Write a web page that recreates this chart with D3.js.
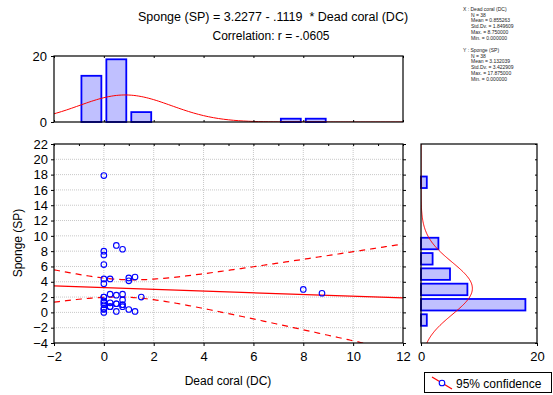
<!DOCTYPE html>
<html>
<head>
<meta charset="utf-8">
<script src="https://cdn.jsdelivr.net/npm/d3@7"></script>
<style>
  body { margin: 0; background: #fff; }
  svg { font-family: 'Liberation Sans', Arial, sans-serif; }
</style>
</head>
<body>
<div id="chart"></div>
<script>
// scatter data: Dead coral (DC) vs Sponge (SP)
const dcValues = [
  0, 0, 0, 0, 0, 0, 0, 0, 0, 0, 0, 0, 0, 0,
  0.25, 0.5, 0.75, 1.0, 1.0, 0.25, 0.5, 0.75, 0.75, 0.75, 0.25, 0.5, 0.25, 0.75, 1.0, 0.5, 0.5, 0.25, 0.75,
  1.25, 1.5, 1.25,
  8.0, 8.75
];
const spValues = [
  17.875, 8.0, 7.5, 6.25, 4.375, 3.75, 2.0, 2.0, 1.5, 1.25, 1.0, 0.5, 0.375, 0.0,
  4.375, 8.75, 8.25, 4.5, 4.125, 2.375, 2.25, 2.375, 1.625, 1.0, 1.25, 1.125, 0.75, 0.75, 0.375, 0.125, 1.125, 0.75, 1.0,
  4.625, 2.0, 0.125,
  3.0, 2.5
];

// marginal histograms
const dcBinStarts = [-1, 0, 1, 7, 8];
const dcBinCounts = [14, 19, 3, 1, 1];
const dcBinWidth = 1;
const spBinStarts = [-2, 0, 2, 4, 6, 8, 16];
const spBinCounts = [1, 18, 8, 5, 2, 3, 1];
const spBinWidth = 2;

// fit results as printed in the chart
const intercept = 3.2277;
const slope = -0.1119;
const nObs = 38;
const dcStats = { mean: 0.855263, sd: 1.849609, max: 8.75, min: 0 };
const spStats = { mean: 3.132039, sd: 3.422909, max: 17.875, min: 0 };
const corrR = -0.0605;
const tCrit = 2.028;

const xTicks = [-2, 0, 2, 4, 6, 8, 10, 12];
const yTicks = [-4, -2, 0, 2, 4, 6, 8, 10, 12, 14, 16, 18, 20, 22];
const histTicks = [0, 20];

const statLinesX = ['X : Dead coral (DC)', 'N = 38', 'Mean = 0.855263', 'Std.Dv. = 1.849609', 'Max. = 8.750000', 'Min. = 0.000000'];
const statLinesY = ['Y : Sponge (SP)', 'N = 38', 'Mean = 3.132039', 'Std.Dv. = 3.422909', 'Max. = 17.875000', 'Min. = 0.000000'];

const W = 553, H = 395;
const svg = d3.select('#chart').append('svg').attr('width', W).attr('height', H);

const x = d3.scaleLinear().domain([-2, 12]).range([54, 403]);
const y = d3.scaleLinear().domain([-4, 22]).range([343, 144]);
const hy = d3.scaleLinear().domain([0, 20]).range([122, 56]);
const hx = d3.scaleLinear().domain([0, 20]).range([421, 537]);

function normalPdf(v, m, s) {
  return Math.exp(-0.5 * ((v - m) / s) ** 2) / (s * Math.sqrt(2 * Math.PI));
}

// titles
svg.append('text').attr('x', 273).attr('y', 21).attr('text-anchor', 'middle')
  .style('font-size', '12.5px').style('white-space', 'pre')
  .text('Sponge (SP) = 3.2277 - .1119  * Dead coral (DC)');
svg.append('text').attr('x', 271).attr('y', 40).attr('text-anchor', 'middle')
  .style('font-size', '12px').text('Correlation: r = ' + corrR.toFixed(4).replace('0.', '.'));

// stats block
const stats = svg.append('g').style('font-size', '5px').attr('fill', '#222');
statLinesX.forEach((t, i) => stats.append('text').attr('x', i ? 471 : 463).attr('y', 11 + i * 5.7).text(t));
statLinesY.forEach((t, i) => stats.append('text').attr('x', i ? 471 : 463).attr('y', 52 + i * 5.7).text(t));

// clip paths
const defs = svg.append('defs');
defs.append('clipPath').attr('id', 'clipMain').append('rect')
  .attr('x', 54).attr('y', 144).attr('width', 349).attr('height', 199);
defs.append('clipPath').attr('id', 'clipTop').append('rect')
  .attr('x', 54).attr('y', 56).attr('width', 349).attr('height', 66);
defs.append('clipPath').attr('id', 'clipRight').append('rect')
  .attr('x', 421).attr('y', 144).attr('width', 116).attr('height', 199);

// ---- main scatter plot ----
const main = svg.append('g');
main.append('g').selectAll('line').data(xTicks.slice(1, -1)).join('line')
  .attr('x1', d => x(d)).attr('x2', d => x(d)).attr('y1', 144).attr('y2', 343)
  .attr('stroke', '#c8c8c8').attr('stroke-dasharray', '1,1');
main.append('g').selectAll('line').data(yTicks.slice(1, -1)).join('line')
  .attr('x1', 54).attr('x2', 403).attr('y1', d => y(d)).attr('y2', d => y(d))
  .attr('stroke', '#c8c8c8').attr('stroke-dasharray', '1,1');

main.append('g').attr('transform', 'translate(0,343)').style('font-size', '13px')
  .call(d3.axisBottom(x).tickValues(xTicks).tickSize(3).tickPadding(6))
  .call(g => g.select('.domain').remove());
main.append('g').attr('transform', 'translate(54,0)').style('font-size', '13px')
  .call(d3.axisLeft(y).tickValues(yTicks).tickSize(3).tickPadding(3))
  .call(g => g.select('.domain').remove());
main.append('g').attr('transform', 'translate(403,0)')
  .call(d3.axisRight(y).tickValues(yTicks).tickSize(3).tickFormat(''))
  .call(g => g.select('.domain').remove());
main.append('g').attr('transform', 'translate(0,144)')
  .call(d3.axisTop(x).tickValues(d3.range(-2, 13, 1)).tickSize(-2).tickFormat(''))
  .call(g => g.select('.domain').remove());
main.selectAll('.tick text').attr('fill', '#000');

// confidence bands and regression line
const sxx = (nObs - 1) * dcStats.sd ** 2;
const syy = (nObs - 1) * spStats.sd ** 2;
const sRes = Math.sqrt(syy * (1 - corrR ** 2) / (nObs - 2));
const xs = d3.range(-2, 12.01, 0.1);
const band = sign => xs.map(v => {
  const hw = tCrit * sRes * Math.sqrt(1 / nObs + (v - dcStats.mean) ** 2 / sxx);
  return [v, intercept + slope * v + sign * hw];
});
const line = d3.line().x(d => x(d[0])).y(d => y(d[1]));
const fitG = main.append('g').attr('clip-path', 'url(#clipMain)');
fitG.append('path').datum(band(1)).attr('d', line).attr('fill', 'none')
  .attr('stroke', '#ff0000').attr('stroke-width', 1.2).attr('stroke-dasharray', '6,5');
fitG.append('path').datum(band(-1)).attr('d', line).attr('fill', 'none')
  .attr('stroke', '#ff0000').attr('stroke-width', 1.2).attr('stroke-dasharray', '6,5');
fitG.append('path').datum([[-2, intercept + slope * -2], [12, intercept + slope * 12]])
  .attr('d', line).attr('fill', 'none').attr('stroke', '#ff0000').attr('stroke-width', 1.2);

// points
main.append('g').selectAll('circle').data(dcValues.map((v, i) => [v, spValues[i]])).join('circle')
  .attr('cx', d => x(d[0])).attr('cy', d => y(d[1])).attr('r', 2.8)
  .attr('fill', 'none').attr('stroke', '#0000ff').attr('stroke-width', 1.1);

main.append('rect').attr('x', 54).attr('y', 144).attr('width', 349).attr('height', 199)
  .attr('fill', 'none').attr('stroke', '#000').attr('stroke-width', 1.2);

svg.append('text').attr('x', 228).attr('y', 385).attr('text-anchor', 'middle')
  .style('font-size', '12px').text('Dead coral (DC)');
svg.append('text').attr('transform', 'translate(22,243) rotate(-90)').attr('text-anchor', 'middle')
  .style('font-size', '12px').text('Sponge (SP)');

// ---- top histogram ----
const topHist = svg.append('g');
topHist.append('g').selectAll('rect').data(dcBinStarts).join('rect')
  .attr('x', d => x(d) + 2.5).attr('width', d => x(d + dcBinWidth) - x(d) - 5)
  .attr('y', (d, i) => hy(dcBinCounts[i])).attr('height', (d, i) => hy(0) - hy(dcBinCounts[i]))
  .attr('fill', '#c0c0ff').attr('stroke', '#0000ff').attr('stroke-width', 1.8);
topHist.append('path').attr('clip-path', 'url(#clipTop)')
  .datum(xs.map(v => [v, nObs * dcBinWidth * normalPdf(v, dcStats.mean, dcStats.sd)]))
  .attr('d', d3.line().x(d => x(d[0])).y(d => hy(d[1])))
  .attr('fill', 'none').attr('stroke', '#ff0000').attr('stroke-width', 1);
topHist.append('g').attr('transform', 'translate(54,0)').style('font-size', '13px')
  .call(d3.axisLeft(hy).tickValues(histTicks).tickSize(3).tickPadding(4))
  .call(g => g.select('.domain').remove());
topHist.append('g').attr('transform', 'translate(0,122)')
  .call(d3.axisTop(x).tickValues(xTicks).tickSize(2).tickFormat(''))
  .call(g => g.select('.domain').remove());
topHist.append('g').attr('transform', 'translate(0,56)')
  .call(d3.axisBottom(x).tickValues(xTicks).tickSize(2).tickFormat(''))
  .call(g => g.select('.domain').remove());
topHist.selectAll('.tick text').attr('fill', '#000');
topHist.append('rect').attr('x', 54).attr('y', 56).attr('width', 349).attr('height', 66)
  .attr('fill', 'none').attr('stroke', '#000').attr('stroke-width', 1.2);

// ---- right histogram ----
const rightHist = svg.append('g');
rightHist.append('g').selectAll('rect').data(spBinStarts).join('rect')
  .attr('y', d => y(d + spBinWidth) + 1.9).attr('height', d => y(d) - y(d + spBinWidth) - 3.8)
  .attr('x', hx(0)).attr('width', (d, i) => hx(spBinCounts[i]) - hx(0))
  .attr('fill', '#c0c0ff').attr('stroke', '#0000ff').attr('stroke-width', 1.8);
const ys = d3.range(-4, 22.01, 0.1);
rightHist.append('path').attr('clip-path', 'url(#clipRight)')
  .datum(ys.map(v => [nObs * spBinWidth * normalPdf(v, spStats.mean, spStats.sd), v]))
  .attr('d', d3.line().x(d => hx(d[0])).y(d => y(d[1])))
  .attr('fill', 'none').attr('stroke', '#ff0000').attr('stroke-width', 1);
rightHist.append('g').attr('transform', 'translate(0,343)').style('font-size', '13px')
  .call(d3.axisBottom(hx).tickValues(histTicks).tickSize(3).tickPadding(6))
  .call(g => g.select('.domain').remove());
rightHist.append('g').attr('transform', 'translate(537,0)')
  .call(d3.axisLeft(y).tickValues(yTicks).tickSize(2).tickFormat(''))
  .call(g => g.select('.domain').remove());
rightHist.selectAll('.tick text').attr('fill', '#000');
rightHist.append('rect').attr('x', 421).attr('y', 144).attr('width', 116).attr('height', 199)
  .attr('fill', 'none').attr('stroke', '#000').attr('stroke-width', 1.2);

// ---- legend ----
const lg = svg.append('g');
lg.append('rect').attr('x', 424.5).attr('y', 372.5).attr('width', 127).attr('height', 20)
  .attr('fill', '#fff').attr('stroke', '#000');
lg.append('line').attr('x1', 432).attr('y1', 377).attr('x2', 452).attr('y2', 389)
  .attr('stroke', '#ff0000').attr('stroke-width', 1.2);
lg.append('circle').attr('cx', 442).attr('cy', 383).attr('r', 2.8)
  .attr('fill', '#fff').attr('stroke', '#0000ff').attr('stroke-width', 1.1);
lg.append('text').attr('x', 456).attr('y', 388).style('font-size', '12px').text('95% confidence');
</script>
</body>
</html>
